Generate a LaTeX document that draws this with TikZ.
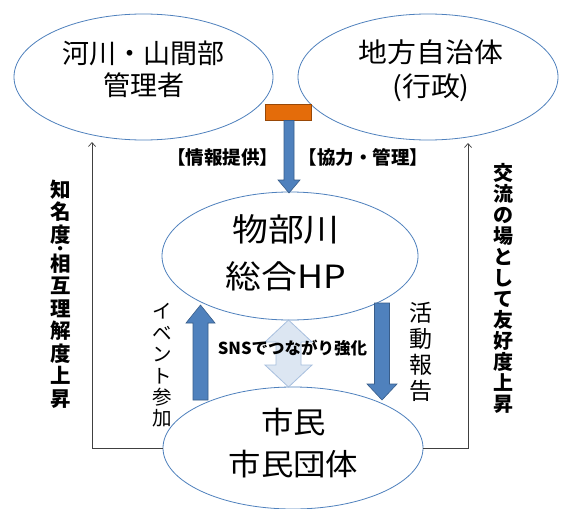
\documentclass[tikz,border=0pt]{standalone}
\usepackage{fontspec}
\setmainfont{Noto Sans CJK JP}
\usetikzlibrary{arrows.meta,shapes.geometric}
\definecolor{ellline}{RGB}{79,129,189}
\definecolor{blueA}{RGB}{79,129,189}
\definecolor{blueB}{RGB}{56,93,138}
\definecolor{orngA}{RGB}{228,108,10}
\definecolor{orngB}{RGB}{152,72,7}
\definecolor{lightA}{RGB}{220,230,242}
\definecolor{lightB}{RGB}{167,191,222}
\definecolor{connc}{RGB}{64,64,64}
\newcommand{\vblock}[7]{%
  \pgfmathsetmacro\hb{(#3>#4)?(#4+#7):(#4-#7)}%
  \draw[#1] (#2-#5,#3) -- (#2-#5,\hb) -- (#2-#6,\hb) -- (#2,#4) -- (#2+#6,\hb) -- (#2+#5,\hb) -- (#2+#5,#3) -- cycle;}
\begin{document}
\begin{tikzpicture}[x=1pt,y=-1pt,
  ell/.style={ellipse, draw=ellline, line width=0.8pt, inner sep=0pt},
  conn/.style={draw=connc, line width=0.7pt, -{Straight Barb[length=4pt,width=7pt]}},
  blk/.style={fill=blueA, draw=blueB, line width=0.6pt},
  lightblk/.style={fill=lightA, draw=lightB, line width=0.8pt},
  txt/.style={align=center, inner sep=0pt, text=black},
  lbl/.style={inner sep=0pt, text=black, font={\bfseries\fontsize{18.5pt}{20pt}\selectfont}},
  vlbl/.style={align=center, inner sep=0pt, text=black}]
\fill[white] (0,0) rectangle (561,508);
\useasboundingbox (0,0) rectangle (561,508);

% ellipses
\node[ell, minimum width=259pt, minimum height=126pt] (rv) at (143.5,77) {};
\node[ell, minimum width=260pt, minimum height=126pt] (gov) at (428,77) {};
\node[ell, minimum width=256pt, minimum height=128pt] (hp) at (290,256) {};
\node[ell, minimum width=260pt, minimum height=122pt] (city) at (293,448) {};

% ellipse texts
\node[txt, font={\fontsize{27pt}{31.5pt}\selectfont}] (rvt) at (143.5,69.5) {河川・山間部\\管理者};
\node[txt, font={\fontsize{27pt}{34pt}\selectfont}] (govt) at (431,71) {\scalebox{1.07}[1]{地方自治体}\\\scalebox{1.07}[1]{(行政)}};
\node[txt, font={\fontsize{32pt}{47pt}\selectfont}] (hpt) at (286,252.5) {\scalebox{1.12}[1]{物部川}\\\scalebox{1.12}[1]{総合HP}};
\node[txt, font={\fontsize{30pt}{42pt}\selectfont}] (cityt) at (293.5,443) {\scalebox{1.08}[1]{市民}\\\scalebox{1.08}[1]{市民団体}};

% orange bar and top arrow
\node[fill=orngA, draw=orngB, line width=0.6pt, minimum width=46pt, minimum height=16pt, inner sep=0pt] (orng) at (288,112) {};
\vblock{blk}{289}{120.5}{193}{5}{11}{13}

% bold labels
\node[lbl] (info) at (222.5,157) {【情報提供】};
\node[lbl] (coop) at (363.5,157) {【協力・管理】};

% SNS double arrow
\draw[lightblk] (288.5,320) -- (312,342) -- (301,342) -- (301,365) -- (312,365) -- (288.5,387)
  -- (265,365) -- (276,365) -- (276,342) -- (265,342) -- cycle;
\node[lbl, font={\bfseries\fontsize{16.5pt}{20pt}\selectfont}] (sns) at (292.5,348) {SNSでつながり強化};

% up and down block arrows
\vblock{blk}{200.5}{400}{305}{7.5}{14.5}{18}
\vblock{blk}{382}{303}{400}{7.5}{15}{16}

% vertical thin texts
\node[vlbl, font={\fontsize{19.5pt}{21.4pt}\selectfont}] (evt) at (162,365.5) {イ\\ベ\\ン\\ト\\参\\加};
\node[vlbl, font={\fontsize{23pt}{26pt}\selectfont}] (act) at (421,352) {活\\動\\報\\告};

% side connectors
\coordinate (ltip) at (92,142);
\coordinate (rtip) at (468,143);
\draw[conn] (city.west) -| (ltip);
\draw[conn] (city.east) -| (rtip);

% vertical bold texts
\node[vlbl, font={\bfseries\fontsize{20.5pt}{22.5pt}\selectfont}] (lefttxt) at (60.5,294)
  {知\\名\\度\\[-8pt]･\\[-8pt]相\\互\\理\\解\\度\\上\\昇};
\node[vlbl, font={\bfseries\fontsize{20pt}{21pt}\selectfont}] (righttxt) at (503.5,288)
  {交\\流\\の\\場\\と\\し\\て\\友\\好\\度\\上\\昇};
\end{tikzpicture}
\end{document}
